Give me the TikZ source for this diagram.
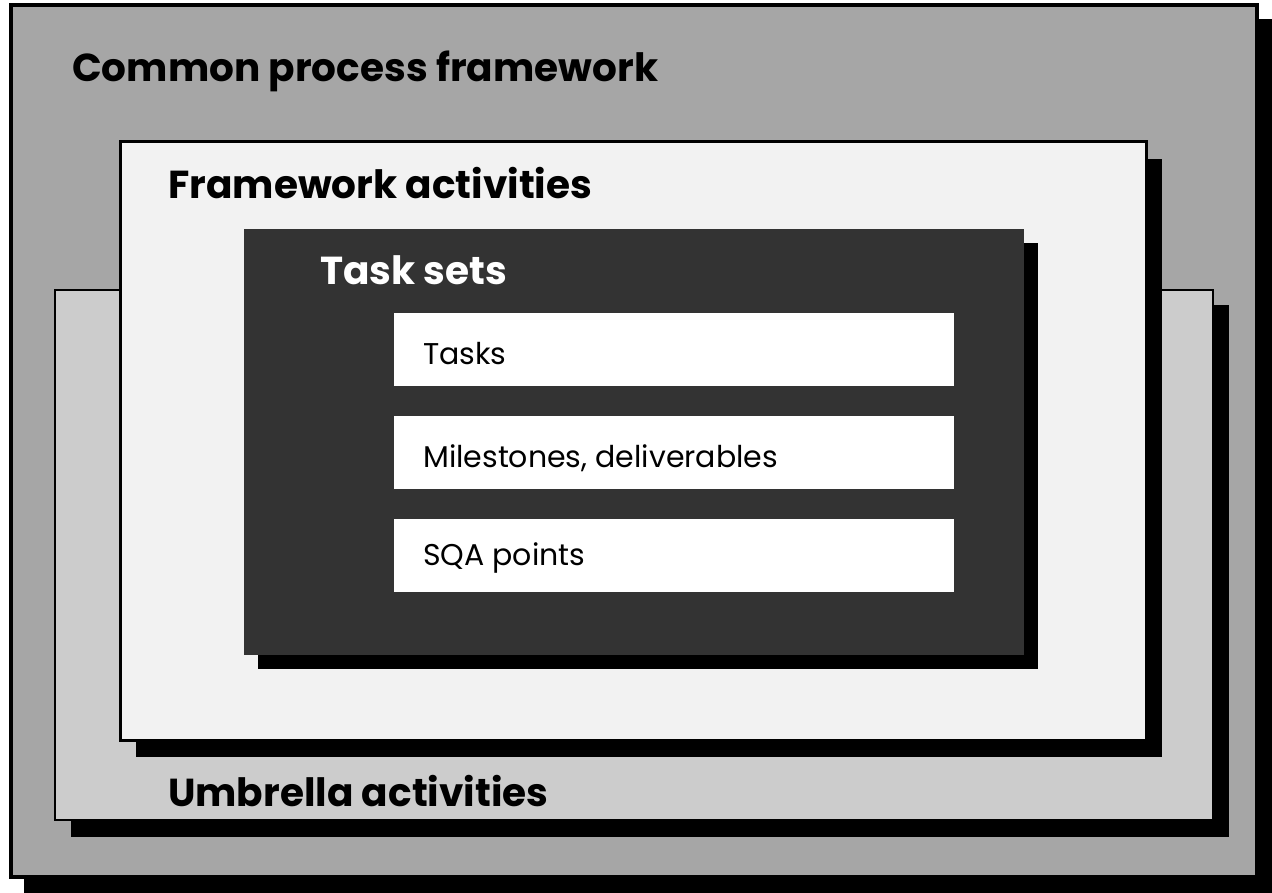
\documentclass[tikz,border=0pt]{standalone}
\usepackage{fontspec}
\setmainfont{Poppins}
\definecolor{outerfill}{HTML}{A6A6A6}
\definecolor{umbfill}{HTML}{CCCCCC}
\definecolor{fwfill}{HTML}{F2F2F2}
\definecolor{taskfill}{HTML}{333333}
\begin{document}
\begin{tikzpicture}[x=1pt,y=-1pt,
  panel/.style={draw=black, anchor=north west, inner sep=0pt, outer sep=0pt},
  shadowbox/.style={fill=black, draw=none, anchor=north west, inner sep=0pt, outer sep=0pt},
  itembox/.style={fill=white, draw=none, anchor=north west, inner sep=0pt, outer sep=0pt, minimum width=560pt, minimum height=73pt},
  headlabel/.style={anchor=base west, inner sep=0pt, font=\fontsize{39}{46}\selectfont\bfseries},
  itemlabel/.style={anchor=base west, inner sep=0pt, font=\fontsize{30}{36}\selectfont},
]
\useasboundingbox (0,0) rectangle (1272,893);
\fill[white] (0,0) rectangle (1272,893);
% outer
\node[shadowbox, minimum width=1248pt, minimum height=874pt] (outershadow) at (24,19) {};
\node[panel, fill=outerfill, line width=3.5pt, minimum width=1246pt, minimum height=872pt] (outer) at (11,5) {};
% umbrella
\node[shadowbox, minimum width=1158pt, minimum height=532pt] (umbshadow) at (71,305) {};
\node[panel, fill=umbfill, line width=2pt, minimum width=1158pt, minimum height=530pt] (umb) at (55,290) {};
% framework
\node[shadowbox, minimum width=1026pt, minimum height=598pt] (fwshadow) at (136,159) {};
\node[panel, fill=fwfill, line width=3pt, minimum width=1026pt, minimum height=598pt] (fw) at (120,142) {};
% task sets
\node[shadowbox, minimum width=780pt, minimum height=426pt] (taskshadow) at (258,243) {};
\node[panel, draw=none, fill=taskfill, minimum width=780pt, minimum height=426pt] (taskbox) at (244,229) {};
% items
\node[itembox] (tasks) at (394,313) {};
\node[itembox] (miles) at (394,416) {};
\node[itembox] (sqa) at (394,519) {};
% labels
\node[headlabel] (cpf) at (72,82) {Common process framework};
\node[headlabel] (fal) at (168,199) {Framework activities};
\node[headlabel, text=white] (tsl) at (320,285) {Task sets};
\node[headlabel] (ual) at (168,806) {Umbrella activities};
\node[itemlabel] (tl) at (423,364) {Tasks};
\node[itemlabel] (ml) at (423,467) {Milestones, deliverables};
\node[itemlabel] (sl) at (423,565) {SQA points};
\end{tikzpicture}
\end{document}
